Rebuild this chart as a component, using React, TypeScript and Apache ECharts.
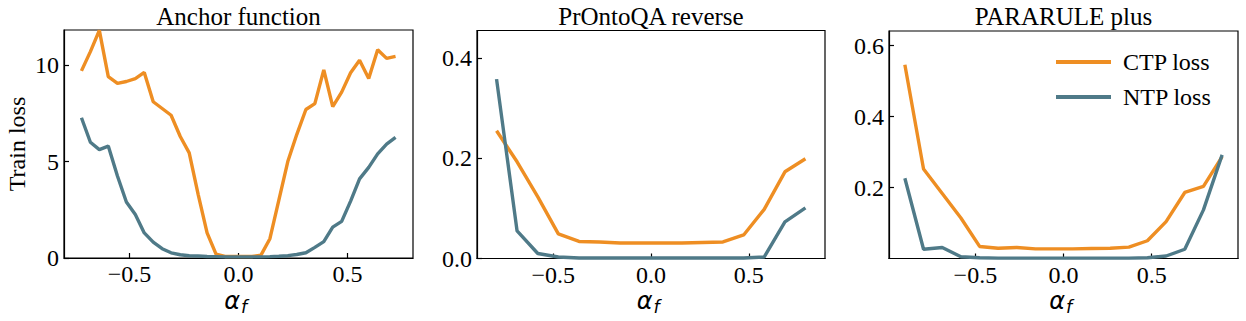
import React, { useEffect, useRef } from "react";
import * as echarts from "echarts";

// ---------- data ----------
const anchorX = [
  -0.72, -0.679, -0.638, -0.597, -0.555, -0.514, -0.473, -0.432, -0.391, -0.35, -0.309, -0.267,
  -0.226, -0.185, -0.144, -0.103, -0.062, -0.021, 0.021, 0.062, 0.103, 0.144, 0.185, 0.226,
  0.267, 0.309, 0.35, 0.391, 0.432, 0.473, 0.514, 0.555, 0.597, 0.638, 0.679, 0.72,
];
const anchorCTP = [
  9.7, 10.7, 11.8, 9.4, 9.05, 9.15, 9.3, 9.62, 8.1, 7.75, 7.4, 6.3,
  5.45, 3.3, 1.3, 0.2, 0.08, 0.08, 0.08, 0.08, 0.15, 1.0, 3.0, 5.0,
  6.4, 7.7, 8.0, 9.75, 7.85, 8.6, 9.6, 10.25, 9.3, 10.8, 10.35, 10.45,
];
const anchorNTP = [
  7.27, 6.0, 5.62, 5.8, 4.25, 2.9, 2.25, 1.3, 0.82, 0.48, 0.27, 0.17,
  0.12, 0.1, 0.08, 0.07, 0.06, 0.06, 0.06, 0.06, 0.06, 0.07, 0.09, 0.12,
  0.18, 0.27, 0.55, 0.85, 1.6, 1.9, 2.95, 4.1, 4.7, 5.4, 5.9, 6.25,
];

const pronX = [
  -0.79, -0.685, -0.579, -0.474, -0.368, -0.263, -0.158, -0.053,
  0.053, 0.158, 0.263, 0.368, 0.474, 0.579, 0.685, 0.79,
];
const pronCTP = [
  0.255, 0.193, 0.123, 0.049, 0.034, 0.033, 0.031, 0.031,
  0.031, 0.031, 0.032, 0.033, 0.047, 0.098, 0.173, 0.199,
];
const pronNTP = [
  0.358, 0.055, 0.01, 0.003, 0.001, 0.001, 0.001, 0.001,
  0.001, 0.001, 0.001, 0.001, 0.001, 0.003, 0.073, 0.101,
];

const paraX = [
  -0.9, -0.794, -0.688, -0.582, -0.476, -0.371, -0.265, -0.159, -0.053,
  0.053, 0.159, 0.265, 0.371, 0.476, 0.582, 0.688, 0.794, 0.9,
];
const paraCTP = [
  0.546, 0.252, 0.183, 0.114, 0.034, 0.029, 0.031, 0.027, 0.027,
  0.027, 0.028, 0.029, 0.032, 0.05, 0.104, 0.186, 0.203, 0.287,
];
const paraNTP = [
  0.226, 0.026, 0.031, 0.005, 0.002, 0.001, 0.001, 0.001, 0.001,
  0.001, 0.001, 0.001, 0.001, 0.002, 0.007, 0.026, 0.137, 0.292,
];

const titles = ["Anchor function", "PrOntoQA reverse", "PARARULE plus"];
const xTicks = [-0.5, 0, 0.5];
const yTicks = [[0, 5, 10], [0, 0.2, 0.4], [0.2, 0.4, 0.6]];
const seriesNames = ["CTP loss", "NTP loss"];

// ---------- styling ----------
const SERIF = "'Liberation Serif', 'Times New Roman', serif";
const ORANGE = "#EE8E23";
const BLUE = "#4F7A88";

const grids = [
  { left: 64, top: 30, width: 349, height: 228 },
  { left: 477, top: 30.5, width: 348, height: 228 },
  { left: 889, top: 31, width: 349, height: 227.5 },
];
const xRanges = [[-0.8, 0.8], [-0.89, 0.89], [-0.99, 0.99]];
const yRanges = [[0, 11.82], [0, 0.455], [0, 0.641]];

const fmtX = (v: number) => {
  const s = Math.abs(v).toFixed(1);
  return v < -1e-9 ? "\u2212" + s : s;
};

export default function App() {
  const ref = useRef<HTMLDivElement>(null);
  useEffect(() => {
    if (!ref.current) return;
    const chart = echarts.init(ref.current, undefined, { renderer: "svg" });

    const panels = [
      { x: anchorX, ctp: anchorCTP, ntp: anchorNTP },
      { x: pronX, ctp: pronCTP, ntp: pronNTP },
      { x: paraX, ctp: paraCTP, ntp: paraNTP },
    ];

    const xAxis = grids.map((_, i) => ({
      type: "value",
      gridIndex: i,
      min: xRanges[i][0],
      max: xRanges[i][1],
      axisLine: { show: true, onZero: false, lineStyle: { color: "#000", width: 1.2 } },
      axisTick: {
        show: true,
        inside: true,
        length: 5,
        customValues: xTicks,
        lineStyle: { color: "#000", width: 1.2 },
      },
      axisLabel: {
        customValues: xTicks,
        formatter: fmtX,
        color: "#000",
        fontFamily: SERIF,
        fontSize: 24,
        lineHeight: 18,
        margin: 7,
      },
      splitLine: { show: false },
    }));

    const yAxis = grids.map((_, i) => ({
      type: "value",
      gridIndex: i,
      min: yRanges[i][0],
      max: yRanges[i][1],
      axisLine: { show: true, onZero: false, lineStyle: { color: "#000", width: 1.2 } },
      axisTick: {
        show: true,
        inside: true,
        length: 5,
        customValues: yTicks[i],
        lineStyle: { color: "#000", width: 1.2 },
      },
      axisLabel: {
        customValues: yTicks[i],
        formatter: (v: number) => (i === 0 ? String(Math.round(v)) : v.toFixed(1)),
        color: "#000",
        fontFamily: SERIF,
        fontSize: 24,
        margin: 5,
      },
      splitLine: { show: false },
    }));

    const series: any[] = [];
    panels.forEach((p, i) => {
      [p.ctp, p.ntp].forEach((vals, k) => {
        series.push({
          type: "line",
          name: seriesNames[k],
          xAxisIndex: i,
          yAxisIndex: i,
          data: p.x.map((x, j) => [x, vals[j]]),
          symbol: "none",
          lineStyle: { color: k === 0 ? ORANGE : BLUE, width: 3.4 },
          itemStyle: { color: k === 0 ? ORANGE : BLUE },
          clip: true,
        });
      });
    });

    const graphic: any[] = [];
    grids.forEach((g, i) => {
      const cx = g.left + g.width / 2;
      graphic.push({
        type: "text",
        x: cx,
        y: 16,
        style: {
          text: titles[i],
          font: `25px ${SERIF}`,
          fill: "#000",
          textAlign: "center",
          textVerticalAlign: "middle",
        },
      });
      graphic.push({
        type: "text",
        x: cx + 1.5,
        y: 300.5,
        style: {
          text: "\u03b1",
          font: "italic 24px 'DejaVu Sans'",
          fill: "#000",
          textAlign: "right",
          textVerticalAlign: "middle",
          lineHeight: 16,
        },
      });
      graphic.push({
        type: "text",
        x: cx + 2.5,
        y: 306.5,
        style: {
          text: "f",
          font: "italic 17.5px 'DejaVu Sans'",
          fill: "#000",
          textAlign: "left",
          textVerticalAlign: "middle",
          lineHeight: 14,
        },
      });
    });
    graphic.push({
      type: "text",
      x: 17,
      y: 144,
      rotation: Math.PI / 2,
      style: {
        text: "Train loss",
        font: `24px ${SERIF}`,
        fill: "#000",
        textAlign: "center",
        textVerticalAlign: "middle",
      },
    });

    chart.setOption({
      animation: false,
      backgroundColor: "#fff",
      textStyle: { fontFamily: SERIF },
      grid: grids.map((g) => ({
        ...g,
        show: true,
        borderColor: "#000",
        borderWidth: 1.2,
        backgroundColor: "transparent",
        containLabel: false,
      })),
      xAxis,
      yAxis,
      series,
      legend: {
        data: seriesNames,
        orient: "vertical",
        left: 1051,
        top: 45,
        itemWidth: 55,
        itemHeight: 4,
        itemGap: 11,
        icon: "rect",
        textStyle: {
          fontFamily: SERIF,
          fontSize: 24,
          color: "#000",
          lineHeight: 24,
          padding: [0, 0, 0, 7],
        },
      },
      graphic,
    });
    return () => chart.dispose();
  }, []);

  return (
    <div
      ref={ref}
      style={{ position: "absolute", left: 0, top: 0, width: 1246, height: 321, background: "#fff" }}
    />
  );
}
